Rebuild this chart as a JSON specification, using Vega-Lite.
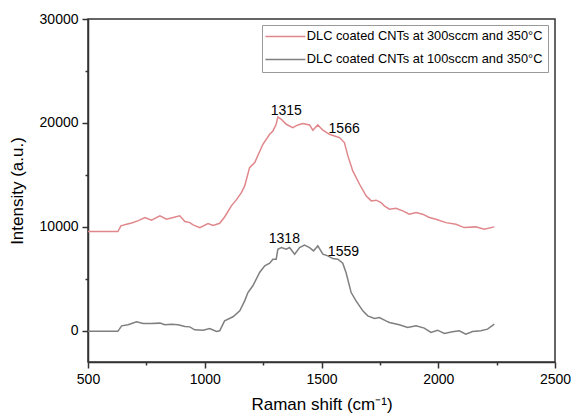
{
  "$schema": "https://vega.github.io/schema/vega-lite/v6.json",
  "width": 467,
  "height": 343,
  "autosize": {"type": "none"},
  "padding": {"left": 88, "top": 19, "right": 18, "bottom": 54},
  "background": "white",
  "config": {
    "font": "Liberation Sans",
    "view": {"stroke": "#333333", "strokeWidth": 1.5}
  },
  "datasets": {
    "spectra": [
      {"sample": "DLC coated CNTs at 300sccm and 350°C", "shift": 500, "intensity": 9550},
      {"sample": "DLC coated CNTs at 300sccm and 350°C", "shift": 628, "intensity": 9550},
      {"sample": "DLC coated CNTs at 300sccm and 350°C", "shift": 641, "intensity": 10100},
      {"sample": "DLC coated CNTs at 300sccm and 350°C", "shift": 665, "intensity": 10250},
      {"sample": "DLC coated CNTs at 300sccm and 350°C", "shift": 687, "intensity": 10380},
      {"sample": "DLC coated CNTs at 300sccm and 350°C", "shift": 713, "intensity": 10580},
      {"sample": "DLC coated CNTs at 300sccm and 350°C", "shift": 744, "intensity": 10900},
      {"sample": "DLC coated CNTs at 300sccm and 350°C", "shift": 772, "intensity": 10650},
      {"sample": "DLC coated CNTs at 300sccm and 350°C", "shift": 808, "intensity": 11060},
      {"sample": "DLC coated CNTs at 300sccm and 350°C", "shift": 836, "intensity": 10740},
      {"sample": "DLC coated CNTs at 300sccm and 350°C", "shift": 865, "intensity": 10900},
      {"sample": "DLC coated CNTs at 300sccm and 350°C", "shift": 893, "intensity": 11060},
      {"sample": "DLC coated CNTs at 300sccm and 350°C", "shift": 915, "intensity": 10510},
      {"sample": "DLC coated CNTs at 300sccm and 350°C", "shift": 936, "intensity": 10410},
      {"sample": "DLC coated CNTs at 300sccm and 350°C", "shift": 950, "intensity": 10190},
      {"sample": "DLC coated CNTs at 300sccm and 350°C", "shift": 979, "intensity": 9930},
      {"sample": "DLC coated CNTs at 300sccm and 350°C", "shift": 1014, "intensity": 10320},
      {"sample": "DLC coated CNTs at 300sccm and 350°C", "shift": 1036, "intensity": 10130},
      {"sample": "DLC coated CNTs at 300sccm and 350°C", "shift": 1064, "intensity": 10350},
      {"sample": "DLC coated CNTs at 300sccm and 350°C", "shift": 1085, "intensity": 10950},
      {"sample": "DLC coated CNTs at 300sccm and 350°C", "shift": 1114, "intensity": 12020},
      {"sample": "DLC coated CNTs at 300sccm and 350°C", "shift": 1135, "intensity": 12600},
      {"sample": "DLC coated CNTs at 300sccm and 350°C", "shift": 1157, "intensity": 13300},
      {"sample": "DLC coated CNTs at 300sccm and 350°C", "shift": 1171, "intensity": 13940},
      {"sample": "DLC coated CNTs at 300sccm and 350°C", "shift": 1192, "intensity": 15700},
      {"sample": "DLC coated CNTs at 300sccm and 350°C", "shift": 1214, "intensity": 16190},
      {"sample": "DLC coated CNTs at 300sccm and 350°C", "shift": 1249, "intensity": 17950},
      {"sample": "DLC coated CNTs at 300sccm and 350°C", "shift": 1278, "intensity": 18910},
      {"sample": "DLC coated CNTs at 300sccm and 350°C", "shift": 1292, "intensity": 19230},
      {"sample": "DLC coated CNTs at 300sccm and 350°C", "shift": 1306, "intensity": 19870},
      {"sample": "DLC coated CNTs at 300sccm and 350°C", "shift": 1313, "intensity": 20580},
      {"sample": "DLC coated CNTs at 300sccm and 350°C", "shift": 1328, "intensity": 20350},
      {"sample": "DLC coated CNTs at 300sccm and 350°C", "shift": 1349, "intensity": 19870},
      {"sample": "DLC coated CNTs at 300sccm and 350°C", "shift": 1377, "intensity": 19550},
      {"sample": "DLC coated CNTs at 300sccm and 350°C", "shift": 1399, "intensity": 19810},
      {"sample": "DLC coated CNTs at 300sccm and 350°C", "shift": 1420, "intensity": 19940},
      {"sample": "DLC coated CNTs at 300sccm and 350°C", "shift": 1449, "intensity": 19810},
      {"sample": "DLC coated CNTs at 300sccm and 350°C", "shift": 1463, "intensity": 19300},
      {"sample": "DLC coated CNTs at 300sccm and 350°C", "shift": 1484, "intensity": 19810},
      {"sample": "DLC coated CNTs at 300sccm and 350°C", "shift": 1506, "intensity": 19300},
      {"sample": "DLC coated CNTs at 300sccm and 350°C", "shift": 1534, "intensity": 18910},
      {"sample": "DLC coated CNTs at 300sccm and 350°C", "shift": 1556, "intensity": 18750},
      {"sample": "DLC coated CNTs at 300sccm and 350°C", "shift": 1577, "intensity": 18590},
      {"sample": "DLC coated CNTs at 300sccm and 350°C", "shift": 1598, "intensity": 18110},
      {"sample": "DLC coated CNTs at 300sccm and 350°C", "shift": 1613, "intensity": 16830},
      {"sample": "DLC coated CNTs at 300sccm and 350°C", "shift": 1634, "intensity": 15380},
      {"sample": "DLC coated CNTs at 300sccm and 350°C", "shift": 1663, "intensity": 14100},
      {"sample": "DLC coated CNTs at 300sccm and 350°C", "shift": 1691, "intensity": 12980},
      {"sample": "DLC coated CNTs at 300sccm and 350°C", "shift": 1713, "intensity": 12500},
      {"sample": "DLC coated CNTs at 300sccm and 350°C", "shift": 1734, "intensity": 12570},
      {"sample": "DLC coated CNTs at 300sccm and 350°C", "shift": 1755, "intensity": 12340},
      {"sample": "DLC coated CNTs at 300sccm and 350°C", "shift": 1769, "intensity": 12020},
      {"sample": "DLC coated CNTs at 300sccm and 350°C", "shift": 1791, "intensity": 11700},
      {"sample": "DLC coated CNTs at 300sccm and 350°C", "shift": 1819, "intensity": 11790},
      {"sample": "DLC coated CNTs at 300sccm and 350°C", "shift": 1848, "intensity": 11540},
      {"sample": "DLC coated CNTs at 300sccm and 350°C", "shift": 1876, "intensity": 11220},
      {"sample": "DLC coated CNTs at 300sccm and 350°C", "shift": 1905, "intensity": 11380},
      {"sample": "DLC coated CNTs at 300sccm and 350°C", "shift": 1933, "intensity": 11220},
      {"sample": "DLC coated CNTs at 300sccm and 350°C", "shift": 1962, "intensity": 10900},
      {"sample": "DLC coated CNTs at 300sccm and 350°C", "shift": 1990, "intensity": 10740},
      {"sample": "DLC coated CNTs at 300sccm and 350°C", "shift": 2033, "intensity": 10410},
      {"sample": "DLC coated CNTs at 300sccm and 350°C", "shift": 2076, "intensity": 10250},
      {"sample": "DLC coated CNTs at 300sccm and 350°C", "shift": 2111, "intensity": 9930},
      {"sample": "DLC coated CNTs at 300sccm and 350°C", "shift": 2161, "intensity": 10000},
      {"sample": "DLC coated CNTs at 300sccm and 350°C", "shift": 2197, "intensity": 9780},
      {"sample": "DLC coated CNTs at 300sccm and 350°C", "shift": 2240, "intensity": 10000},
      {"sample": "DLC coated CNTs at 100sccm and 350°C", "shift": 500, "intensity": -50},
      {"sample": "DLC coated CNTs at 100sccm and 350°C", "shift": 628, "intensity": -50},
      {"sample": "DLC coated CNTs at 100sccm and 350°C", "shift": 644, "intensity": 480},
      {"sample": "DLC coated CNTs at 100sccm and 350°C", "shift": 672, "intensity": 580},
      {"sample": "DLC coated CNTs at 100sccm and 350°C", "shift": 708, "intensity": 870},
      {"sample": "DLC coated CNTs at 100sccm and 350°C", "shift": 736, "intensity": 700},
      {"sample": "DLC coated CNTs at 100sccm and 350°C", "shift": 772, "intensity": 700},
      {"sample": "DLC coated CNTs at 100sccm and 350°C", "shift": 808, "intensity": 740},
      {"sample": "DLC coated CNTs at 100sccm and 350°C", "shift": 829, "intensity": 580},
      {"sample": "DLC coated CNTs at 100sccm and 350°C", "shift": 858, "intensity": 640},
      {"sample": "DLC coated CNTs at 100sccm and 350°C", "shift": 886, "intensity": 580},
      {"sample": "DLC coated CNTs at 100sccm and 350°C", "shift": 915, "intensity": 420},
      {"sample": "DLC coated CNTs at 100sccm and 350°C", "shift": 936, "intensity": 380},
      {"sample": "DLC coated CNTs at 100sccm and 350°C", "shift": 957, "intensity": 100},
      {"sample": "DLC coated CNTs at 100sccm and 350°C", "shift": 993, "intensity": 60},
      {"sample": "DLC coated CNTs at 100sccm and 350°C", "shift": 1021, "intensity": 220},
      {"sample": "DLC coated CNTs at 100sccm and 350°C", "shift": 1050, "intensity": -70},
      {"sample": "DLC coated CNTs at 100sccm and 350°C", "shift": 1064, "intensity": 0},
      {"sample": "DLC coated CNTs at 100sccm and 350°C", "shift": 1085, "intensity": 960},
      {"sample": "DLC coated CNTs at 100sccm and 350°C", "shift": 1121, "intensity": 1350},
      {"sample": "DLC coated CNTs at 100sccm and 350°C", "shift": 1150, "intensity": 1920},
      {"sample": "DLC coated CNTs at 100sccm and 350°C", "shift": 1171, "intensity": 2880},
      {"sample": "DLC coated CNTs at 100sccm and 350°C", "shift": 1185, "intensity": 3680},
      {"sample": "DLC coated CNTs at 100sccm and 350°C", "shift": 1206, "intensity": 4330},
      {"sample": "DLC coated CNTs at 100sccm and 350°C", "shift": 1235, "intensity": 5610},
      {"sample": "DLC coated CNTs at 100sccm and 350°C", "shift": 1257, "intensity": 6250},
      {"sample": "DLC coated CNTs at 100sccm and 350°C", "shift": 1278, "intensity": 6510},
      {"sample": "DLC coated CNTs at 100sccm and 350°C", "shift": 1292, "intensity": 6890},
      {"sample": "DLC coated CNTs at 100sccm and 350°C", "shift": 1306, "intensity": 6890},
      {"sample": "DLC coated CNTs at 100sccm and 350°C", "shift": 1313, "intensity": 7850},
      {"sample": "DLC coated CNTs at 100sccm and 350°C", "shift": 1328, "intensity": 8010},
      {"sample": "DLC coated CNTs at 100sccm and 350°C", "shift": 1349, "intensity": 7850},
      {"sample": "DLC coated CNTs at 100sccm and 350°C", "shift": 1363, "intensity": 8010},
      {"sample": "DLC coated CNTs at 100sccm and 350°C", "shift": 1385, "intensity": 7370},
      {"sample": "DLC coated CNTs at 100sccm and 350°C", "shift": 1406, "intensity": 8010},
      {"sample": "DLC coated CNTs at 100sccm and 350°C", "shift": 1427, "intensity": 8240},
      {"sample": "DLC coated CNTs at 100sccm and 350°C", "shift": 1449, "intensity": 8010},
      {"sample": "DLC coated CNTs at 100sccm and 350°C", "shift": 1466, "intensity": 7690},
      {"sample": "DLC coated CNTs at 100sccm and 350°C", "shift": 1484, "intensity": 8170},
      {"sample": "DLC coated CNTs at 100sccm and 350°C", "shift": 1506, "intensity": 7370},
      {"sample": "DLC coated CNTs at 100sccm and 350°C", "shift": 1527, "intensity": 7210},
      {"sample": "DLC coated CNTs at 100sccm and 350°C", "shift": 1548, "intensity": 6950},
      {"sample": "DLC coated CNTs at 100sccm and 350°C", "shift": 1570, "intensity": 6890},
      {"sample": "DLC coated CNTs at 100sccm and 350°C", "shift": 1591, "intensity": 6510},
      {"sample": "DLC coated CNTs at 100sccm and 350°C", "shift": 1605, "intensity": 5610},
      {"sample": "DLC coated CNTs at 100sccm and 350°C", "shift": 1627, "intensity": 3680},
      {"sample": "DLC coated CNTs at 100sccm and 350°C", "shift": 1648, "intensity": 2880},
      {"sample": "DLC coated CNTs at 100sccm and 350°C", "shift": 1677, "intensity": 1920},
      {"sample": "DLC coated CNTs at 100sccm and 350°C", "shift": 1698, "intensity": 1440},
      {"sample": "DLC coated CNTs at 100sccm and 350°C", "shift": 1727, "intensity": 1180},
      {"sample": "DLC coated CNTs at 100sccm and 350°C", "shift": 1748, "intensity": 1280},
      {"sample": "DLC coated CNTs at 100sccm and 350°C", "shift": 1776, "intensity": 960},
      {"sample": "DLC coated CNTs at 100sccm and 350°C", "shift": 1791, "intensity": 800},
      {"sample": "DLC coated CNTs at 100sccm and 350°C", "shift": 1833, "intensity": 580},
      {"sample": "DLC coated CNTs at 100sccm and 350°C", "shift": 1869, "intensity": 320},
      {"sample": "DLC coated CNTs at 100sccm and 350°C", "shift": 1905, "intensity": 480},
      {"sample": "DLC coated CNTs at 100sccm and 350°C", "shift": 1940, "intensity": 260},
      {"sample": "DLC coated CNTs at 100sccm and 350°C", "shift": 1969, "intensity": -160},
      {"sample": "DLC coated CNTs at 100sccm and 350°C", "shift": 1997, "intensity": 60},
      {"sample": "DLC coated CNTs at 100sccm and 350°C", "shift": 2026, "intensity": -260},
      {"sample": "DLC coated CNTs at 100sccm and 350°C", "shift": 2061, "intensity": -100},
      {"sample": "DLC coated CNTs at 100sccm and 350°C", "shift": 2090, "intensity": 0},
      {"sample": "DLC coated CNTs at 100sccm and 350°C", "shift": 2118, "intensity": -320},
      {"sample": "DLC coated CNTs at 100sccm and 350°C", "shift": 2147, "intensity": -60},
      {"sample": "DLC coated CNTs at 100sccm and 350°C", "shift": 2182, "intensity": 0},
      {"sample": "DLC coated CNTs at 100sccm and 350°C", "shift": 2211, "intensity": 160},
      {"sample": "DLC coated CNTs at 100sccm and 350°C", "shift": 2240, "intensity": 640}
    ],
    "peaks": [
      {"label": "1315", "shift": 1349, "intensity": 21150},
      {"label": "1566", "shift": 1597, "intensity": 19420},
      {"label": "1318", "shift": 1341, "intensity": 8850},
      {"label": "1559", "shift": 1594, "intensity": 7600}
    ]
  },
  "layer": [
    {
      "data": {"name": "spectra"},
      "mark": {"type": "line", "strokeWidth": 1.5, "clip": true},
      "encoding": {
        "x": {
          "field": "shift",
          "type": "quantitative",
          "scale": {"domain": [500, 2500], "nice": false, "zero": false},
          "axis": {
            "title": "Raman shift (cm⁻¹)",
            "values": [500, 750, 1000, 1250, 1500, 1750, 2000, 2250, 2500],
            "format": "d",
            "labelExpr": "datum.value % 500 === 0 ? datum.label : ''",
            "tickSize": {"condition": {"test": "datum.value % 500 === 0", "value": 6}, "value": 3},
            "grid": false,
            "domainColor": "#333333",
            "domainWidth": 1.5,
            "tickColor": "#333333",
            "tickWidth": 1.5,
            "labelFontSize": 14,
            "labelColor": "#000000",
            "labelPadding": 4,
            "labelFlush": false,
            "labelOverlap": false,
            "titleFontSize": 17,
            "titleFontWeight": "normal",
            "titleColor": "#000000",
            "titlePadding": 10
          }
        },
        "y": {
          "field": "intensity",
          "type": "quantitative",
          "scale": {"domain": [-3000, 30000], "nice": false, "zero": false},
          "axis": {
            "title": "Intensity (a.u.)",
            "values": [0, 5000, 10000, 15000, 20000, 25000, 30000],
            "format": "d",
            "labelExpr": "datum.value % 10000 === 0 ? datum.label : ''",
            "tickSize": {"condition": {"test": "datum.value % 10000 === 0", "value": 6}, "value": 3},
            "grid": false,
            "domainColor": "#333333",
            "domainWidth": 1.5,
            "tickColor": "#333333",
            "tickWidth": 1.5,
            "labelFontSize": 14,
            "labelColor": "#000000",
            "labelPadding": 4,
            "labelFlush": false,
            "labelOverlap": false,
            "titleFontSize": 17,
            "titleFontWeight": "normal",
            "titleColor": "#000000",
            "titlePadding": 13
          }
        },
        "color": {
          "field": "sample",
          "type": "nominal",
          "scale": {
            "domain": ["DLC coated CNTs at 300sccm and 350°C", "DLC coated CNTs at 100sccm and 350°C"],
            "range": ["#e0878c", "#7f7f7f"]
          },
          "legend": {
            "title": null,
            "orient": "none",
            "legendX": 174,
            "legendY": 6,
            "symbolType": "M-4,0H4",
            "symbolSize": 100,
            "symbolOffset": 12,
            "symbolStrokeWidth": 1.5,
            "labelFontSize": 12.8,
            "labelColor": "#000000",
            "labelOffset": 15,
            "labelLimit": 400,
            "strokeColor": "#999999",
            "fillColor": "white",
            "padding": 5,
            "rowPadding": 9
          }
        }
      }
    },
    {
      "data": {"name": "peaks"},
      "mark": {"type": "text", "fontSize": 14, "color": "#000000", "font": "Liberation Sans"},
      "encoding": {
        "x": {"field": "shift", "type": "quantitative"},
        "y": {"field": "intensity", "type": "quantitative"},
        "text": {"field": "label", "type": "nominal"}
      }
    }
  ]
}
